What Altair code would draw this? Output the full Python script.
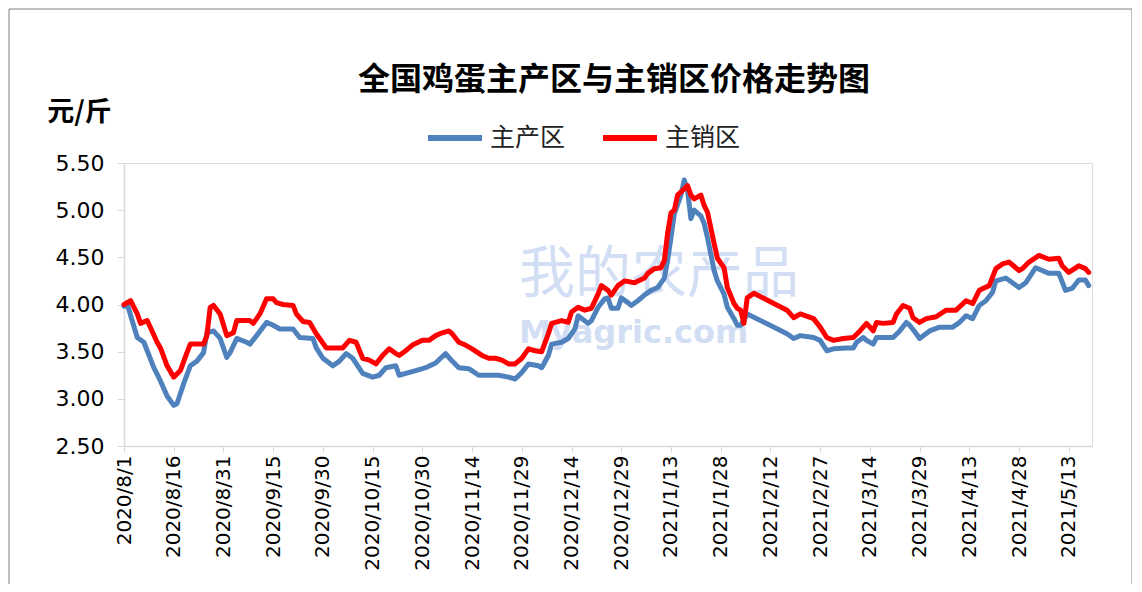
import altair as alt
import pandas as pd

start = pd.Timestamp("2020-08-01")

series_names = ["主产区", "主销区"]
series_colors = ["#4F81BD", "#FF0000"]
chart_title = "全国鸡蛋主产区与主销区价格走势图"
watermark_cn = "我的农产品"
watermark_en = "Myagric.com"

# 主产区 (day offset from 2020/8/1, price)
prod_days = [0, 1, 4, 6, 7, 9, 11, 13, 15, 16, 18, 20, 22, 24, 25, 27, 29, 31, 32, 34,
             37, 38, 40, 43, 45, 47, 51, 53, 57, 58, 60, 63, 65, 67, 69, 72, 75, 77, 79, 82,
             83, 85, 88, 91, 94, 97, 99, 101, 104, 107, 109, 113, 116, 118, 120, 122, 125, 126, 128, 129,
             132, 134, 136, 137, 140, 141, 143, 145, 146, 147, 149, 150, 152, 153, 155, 157, 159, 161, 163, 164,
             165, 166, 168, 169, 170, 171, 172, 174, 175, 176, 178, 179, 181, 182, 184, 185, 186, 188, 200, 202,
             204, 208, 210, 212, 214, 218, 220, 221, 223, 224, 226, 227, 230, 232, 234, 236, 237, 239, 240, 243,
             246, 250, 252, 254, 256, 258, 260, 262, 263, 266, 268, 270, 272, 275, 277, 279, 282, 284, 286, 288,
             290, 291]
prod_vals = [3.98, 4.00, 3.65, 3.60, 3.51, 3.33, 3.19, 3.03, 2.93, 2.95, 3.16, 3.35, 3.40, 3.49, 3.70, 3.72, 3.64, 3.44, 3.49, 3.64,
             3.60, 3.58, 3.67, 3.81, 3.78, 3.74, 3.74, 3.65, 3.64, 3.54, 3.43, 3.35, 3.40, 3.48, 3.43, 3.27, 3.23, 3.25, 3.33, 3.35,
             3.25, 3.27, 3.30, 3.33, 3.38, 3.48, 3.40, 3.33, 3.32, 3.25, 3.25, 3.25, 3.23, 3.21, 3.28, 3.37, 3.35, 3.33, 3.46, 3.58,
             3.60, 3.64, 3.74, 3.88, 3.80, 3.83, 3.97, 4.06, 4.07, 3.96, 3.96, 4.07, 4.02, 3.99, 4.04, 4.10, 4.15, 4.18, 4.28, 4.47,
             4.71, 4.96, 5.16, 5.32, 5.21, 4.91, 5.00, 4.94, 4.86, 4.71, 4.36, 4.25, 4.11, 3.97, 3.85, 3.78, 3.78, 3.90, 3.69, 3.64,
             3.67, 3.65, 3.62, 3.51, 3.53, 3.54, 3.54, 3.60, 3.65, 3.62, 3.58, 3.65, 3.65, 3.65, 3.72, 3.81, 3.78, 3.69, 3.64, 3.72,
             3.76, 3.76, 3.81, 3.88, 3.85, 3.99, 4.04, 4.13, 4.25, 4.28, 4.23, 4.18, 4.23, 4.39, 4.36, 4.33, 4.33, 4.15, 4.17, 4.26,
             4.26, 4.20]

# 主销区
sale_days = [0, 2, 4, 5, 7, 10, 11, 13, 15, 17, 19, 20, 24, 25, 26, 27, 29, 31, 33, 34,
             38, 39, 41, 43, 45, 46, 48, 51, 52, 54, 56, 58, 61, 66, 68, 70, 72, 74, 76, 78,
             80, 82, 83, 85, 87, 90, 92, 94, 96, 98, 99, 101, 103, 105, 108, 110, 112, 114, 116, 118,
             120, 122, 124, 126, 128, 129, 132, 134, 135, 137, 139, 141, 143, 144, 146, 147, 149, 151, 154, 157,
             158, 160, 162, 163, 164, 165, 166, 167, 170, 171, 172, 174, 175, 176, 178, 179, 181, 182, 184, 185,
             186, 187, 188, 190, 196, 200, 202, 204, 208, 210, 212, 214, 217, 220, 222, 224, 226, 227, 229, 232,
             233, 235, 237, 238, 240, 242, 245, 248, 251, 254, 256, 258, 261, 263, 265, 267, 270, 271, 273, 276,
             279, 282, 283, 285, 288, 290, 291]
sale_vals = [4.00, 4.04, 3.90, 3.80, 3.83, 3.60, 3.54, 3.35, 3.23, 3.30, 3.49, 3.58, 3.58, 3.67, 3.97, 3.99, 3.90, 3.67, 3.70, 3.83,
             3.83, 3.80, 3.90, 4.06, 4.06, 4.02, 4.00, 3.99, 3.90, 3.82, 3.81, 3.69, 3.54, 3.54, 3.62, 3.60, 3.43, 3.41, 3.37, 3.46,
             3.53, 3.48, 3.46, 3.51, 3.57, 3.62, 3.62, 3.67, 3.70, 3.72, 3.69, 3.60, 3.57, 3.53, 3.46, 3.43, 3.43, 3.41, 3.37, 3.37,
             3.43, 3.53, 3.51, 3.50, 3.69, 3.80, 3.83, 3.81, 3.92, 3.97, 3.94, 3.96, 4.11, 4.20, 4.15, 4.10, 4.20, 4.25, 4.23, 4.28,
             4.33, 4.38, 4.39, 4.47, 4.76, 4.97, 5.00, 5.16, 5.26, 5.16, 5.12, 5.16, 5.05, 4.98, 4.65, 4.49, 4.39, 4.18, 4.01, 3.96,
             3.94, 3.80, 4.07, 4.12, 4.01, 3.94, 3.86, 3.90, 3.85, 3.76, 3.65, 3.62, 3.64, 3.65, 3.72, 3.80, 3.72, 3.81, 3.80, 3.81,
             3.90, 3.99, 3.96, 3.86, 3.81, 3.85, 3.87, 3.94, 3.94, 4.04, 4.01, 4.15, 4.20, 4.38, 4.43, 4.45, 4.36, 4.38, 4.45, 4.52,
             4.48, 4.49, 4.41, 4.34, 4.41, 4.38, 4.34]

tick_days = list(range(0, 286, 15))
y_ticks = [2.5, 3.0, 3.5, 4.0, 4.5, 5.0, 5.5]


def to_dates(days):
    return [(start + pd.Timedelta(days=d)).strftime("%Y-%m-%d") for d in days]


def to_ms(d):
    return int((start + pd.Timedelta(days=d)).value // 10**6)


df = pd.concat([
    pd.DataFrame({"date": to_dates(prod_days), "price": prod_vals, "series": series_names[0]}),
    pd.DataFrame({"date": to_dates(sale_days), "price": sale_vals, "series": series_names[1]}),
], ignore_index=True)

tick_ms = [to_ms(d) for d in tick_days]
x_domain = [to_ms(0), to_ms(292)]

lines = alt.Chart(df).mark_line(strokeWidth=5, strokeJoin="round", strokeCap="round").encode(
    x=alt.X("date:T",
            scale=alt.Scale(type="utc", domain=x_domain),
            axis=alt.Axis(values=tick_ms, format="%Y/%-m/%-d", labelAngle=-90,
                          labelFont="DejaVu Sans", labelFontSize=20, labelColor="#000000",
                          labelPadding=3, tickSize=6, tickColor="#d9d9d9", domainColor="#d9d9d9",
                          domainWidth=1.5, grid=False, labelOverlap=False, title=None)),
    y=alt.Y("price:Q",
            scale=alt.Scale(domain=[2.5, 5.5], nice=False, zero=False),
            axis=alt.Axis(values=y_ticks, format=".2f", labelFont="DejaVu Sans", labelFontSize=22,
                          labelColor="#000000", labelPadding=13, tickSize=7, tickColor="#d9d9d9",
                          domainColor="#d9d9d9", domainWidth=1.5, grid=False,
                          title="元/斤", titleAngle=0, titleX=-45, titleY=-51, titleAlign="center",
                          titleBaseline="middle", titleFont="Noto Sans CJK SC", titleFontSize=27,
                          titleFontWeight="bold", titleColor="#000000")),
    color=alt.Color("series:N",
                    scale=alt.Scale(domain=series_names, range=series_colors),
                    legend=alt.Legend(orient="none", legendX=301, legendY=-55, direction="horizontal",
                                      title=None, symbolType="stroke", symbolStrokeWidth=6,
                                      symbolSize=2916, labelFont="Noto Sans CJK SC", labelFontSize=25,
                                      labelColor="#222222", labelOffset=5, columnPadding=25, padding=0)),
)

border = alt.Chart(alt.Data(values=[{}])).mark_rect(fillOpacity=0, stroke="#808080", strokeWidth=1).encode(
    x=alt.value(-115), x2=alt.value(1008), y=alt.value(-154), y2=alt.value(600)
)

title = alt.Chart(alt.Data(values=[{"t": chart_title}])).mark_text(
    font="Noto Sans CJK SC", fontSize=32, fontWeight="bold", color="#000000",
    align="center", baseline="middle"
).encode(text="t:N", x=alt.value(490), y=alt.value(-83))

wm = alt.Chart(alt.Data(values=[{"t": watermark_cn}])).mark_text(
    font="Noto Sans CJK SC", fontSize=56, color="#c9d9f2", opacity=0.85,
    align="left", baseline="middle"
).encode(text="t:N", x=alt.value(395), y=alt.value(112))

wm2 = alt.Chart(alt.Data(values=[{"t": watermark_en}])).mark_text(
    font="DejaVu Sans", fontSize=32, fontWeight="bold", color="#c9d9f2", opacity=0.85,
    align="left", baseline="middle"
).encode(text="t:N", x=alt.value(395), y=alt.value(170))

chart = alt.layer(border, wm, wm2, title, lines).properties(
    width=968, height=283,
    autosize=alt.AutoSizeParams(type="none"),
    padding={"left": 116, "top": 155, "right": 40, "bottom": 138},
).configure_view(strokeWidth=0, stroke="transparent").configure(background="white")

chart.save("out.html", embed_options={"renderer": "svg", "actions": False})
